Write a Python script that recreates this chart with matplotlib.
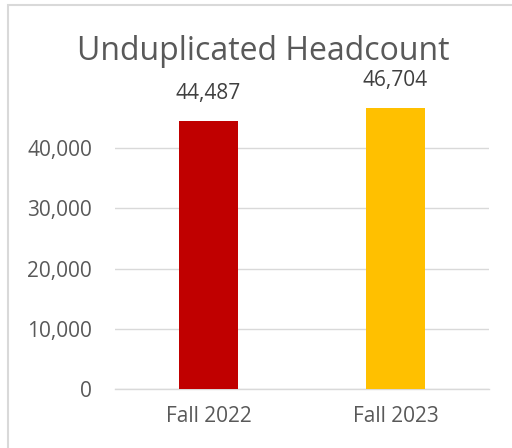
import matplotlib.pyplot as plt
from matplotlib.patches import Rectangle

# chart data
terms = ["Fall 2022", "Fall 2023"]
headcount = [44487, 46704]
bar_colors = ["#C00000", "#FFC000"]
y_ticks = [0, 10000, 20000, 30000, 40000]

plt.rcParams['font.family'] = ['Open Sans', 'DejaVu Sans']
grey = "#595959"

fig = plt.figure(figsize=(5.12, 4.48), dpi=100)
# outer chart border (image is cropped on right and bottom)
fig.patches.append(Rectangle((8 / 512, -0.1), 1.2, 1 - 5 / 448 + 0.1,
                             transform=fig.transFigure, fill=False,
                             edgecolor="#d9d9d9", linewidth=1.5))

ax = fig.add_axes([115 / 512, 1 - 389 / 448, 374 / 512, (389 - 87.75) / 448])
x = list(range(len(terms)))
bars = ax.bar(x, headcount, width=0.315, color=bar_colors, zorder=3)
for xi, v in zip(x, headcount):
    ax.text(xi, v + 2800, f"{v:,}", ha="center", va="bottom", fontsize=15, color="#404040")

ax.set_xlim(-0.5, 1.5)
ax.set_ylim(0, 50000)
ax.set_yticks(y_ticks)
ax.set_yticklabels([f"{t:,}" for t in y_ticks])
ax.set_xticks(x)
ax.set_xticklabels(terms)
ax.tick_params(axis="both", length=0, labelsize=15, labelcolor=grey)
ax.tick_params(axis="y", pad=16.5)
ax.tick_params(axis="x", pad=12)
ax.grid(axis="y", color="#d9d9d9", linewidth=1, zorder=0)
for s in ["top", "right", "left"]:
    ax.spines[s].set_visible(False)
ax.spines["bottom"].set_color("#d9d9d9")
ax.spines["bottom"].set_linewidth(1)

fig.text(263 / 512, 1 - 52 / 448, "Unduplicated Headcount", ha="center", va="center",
         fontsize=23, color=grey)

fig.savefig("out.png", dpi=100)
